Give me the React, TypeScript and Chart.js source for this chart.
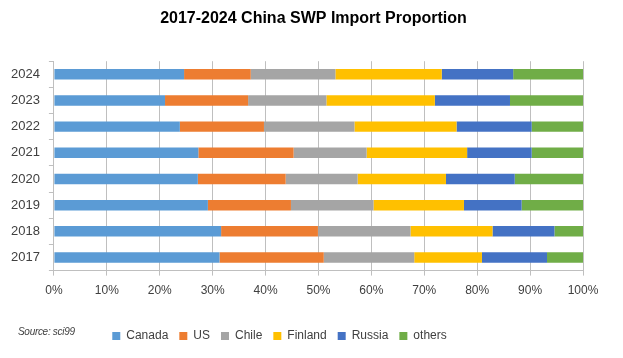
import React, { useEffect, useRef } from "react";
import { Chart, registerables } from "chart.js";

Chart.register(...registerables);

const years = ["2017", "2018", "2019", "2020", "2021", "2022", "2023", "2024"];
const canada = [31.3, 31.6, 29.1, 27.2, 27.3, 23.8, 21.0, 24.6];
const us = [19.7, 18.3, 15.7, 16.6, 18.0, 15.9, 15.7, 12.6];
const chile = [17.1, 17.5, 15.6, 13.6, 13.8, 17.1, 14.8, 16.0];
const finland = [12.8, 15.5, 17.1, 16.7, 19.0, 19.3, 20.5, 20.1];
const russia = [12.3, 11.7, 10.9, 13.0, 12.2, 14.2, 14.2, 13.5];
const others = [6.8, 5.4, 11.6, 12.9, 9.7, 9.7, 13.8, 13.2];
const xTicks = [0, 10, 20, 30, 40, 50, 60, 70, 80, 90, 100];

const seriesNames = ["Canada", "US", "Chile", "Finland", "Russia", "others"];
const seriesValues = [canada, us, chile, finland, russia, others];
const colors = ["#5B9BD5", "#ED7D31", "#A5A5A5", "#FFC000", "#4472C4", "#70AD47"];

const layoutShift = {
  id: "layoutShift",
  afterLayout(chart: any) {
    const lg = chart.legend;
    if (lg) {
      lg.left -= 13;
      lg.right -= 13;
      lg.top += 13;
      lg.bottom += 13;
    }
    const t = chart.titleBlock;
    if (t) {
      t.left += 21;
      t.right += 21;
    }
  },
};

export default function App() {
  const ref = useRef<HTMLCanvasElement | null>(null);
  useEffect(() => {
    if (!ref.current) return;
    const chart = new Chart(ref.current, {
      type: "bar",
      data: {
        labels: years,
        datasets: seriesNames.map((n, i) => ({
          label: n,
          data: seriesValues[i],
          backgroundColor: colors[i],
          borderWidth: 0,
          barPercentage: 0.8,
          categoryPercentage: 0.5,
        })),
      },
      options: {
        indexAxis: "y",
        animation: false,
        responsive: false,
        maintainAspectRatio: false,
        layout: { padding: { left: 2, right: 40, top: 4, bottom: 19 } },
        plugins: {
          title: {
            display: true,
            text: "2017-2024 China SWP Import Proportion",
            color: "#000",
            font: { family: "Liberation Sans, Arial, sans-serif", size: 16, weight: "bold" },
            padding: { top: 5, bottom: 33 },
          },
          legend: {
            position: "bottom",
            labels: {
              boxWidth: 8,
              boxHeight: 8,
              padding: 11,
              color: "#404040",
              font: { family: "Liberation Sans, Arial, sans-serif", size: 12 },
            },
          },
          tooltip: { enabled: false },
        },
        scales: {
          x: {
            stacked: true,
            min: 0,
            max: 100,
            afterBuildTicks: (s: any) => {
              s.ticks = xTicks.map((v) => ({ value: v }));
            },
            ticks: {
              callback: (v: any) => v + "%",
              color: "#404040",
              font: { family: "Liberation Sans, Arial, sans-serif", size: 12 },
              padding: 8,
            },
            grid: { color: "#BFBFBF", tickLength: 5, lineWidth: 1 },
            border: { color: "#BFBFBF" },
          },
          y: {
            stacked: true,
            reverse: true,
            ticks: {
              color: "#404040",
              font: { family: "Liberation Sans, Arial, sans-serif", size: 13 },
              padding: 9,
            },
            grid: { drawOnChartArea: false, drawTicks: true, tickLength: 5, color: "#BFBFBF", offset: true },
            border: { color: "#BFBFBF" },
          },
        },
      },
      plugins: [layoutShift],
    } as any);
    return () => chart.destroy();
  }, []);
  return (
    <div style={{ position: "absolute", left: 0, top: 0, width: 623, height: 358, background: "#fff" }}>
      <canvas ref={ref} width={623} height={358} style={{ display: "block" }} />
      <div
        style={{
          position: "absolute",
          left: 18,
          top: 326,
          fontFamily: "Liberation Sans Narrow, Liberation Sans, Arial, sans-serif",
          fontSize: 10,
          fontStyle: "italic",
          color: "#404040",
          letterSpacing: -0.3,
        }}
      >
        Source: sci99
      </div>
    </div>
  );
}
